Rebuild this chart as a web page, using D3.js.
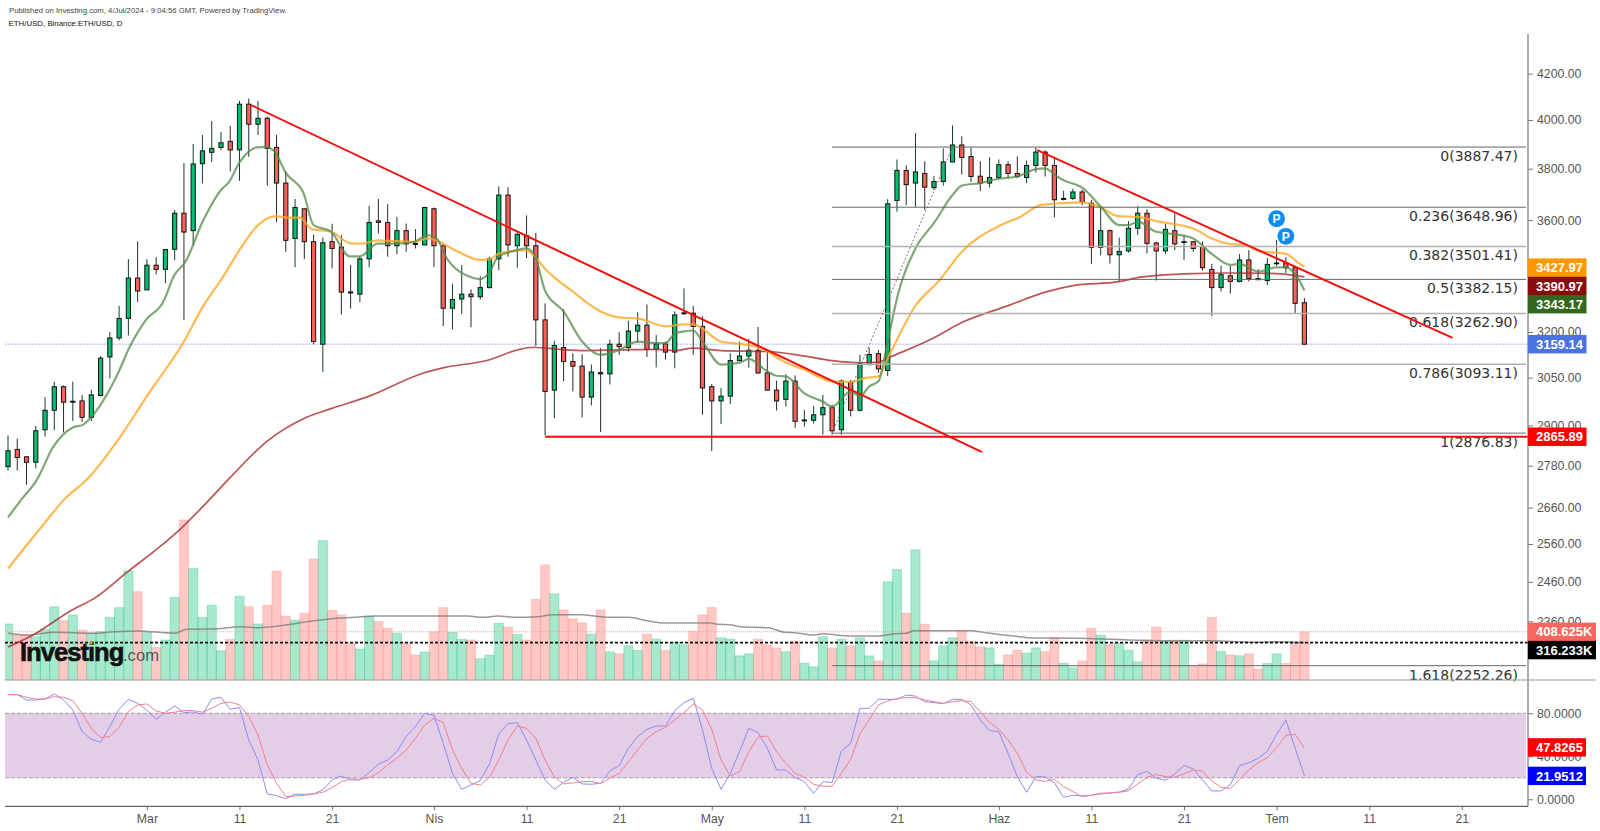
<!DOCTYPE html>
<html>
<head>
<meta charset="utf-8">
<style>
  html, body { margin: 0; padding: 0; background: #fff; }
  svg { display: block; }
  text { font-family: "Liberation Sans", Arial, sans-serif; }
  .axis text { font-size: 12.3px; fill: #555; }
  .axis line { stroke: #777; }
  .axis path { display: none; }
</style>
</head>
<body>
<div id="box"></div>
<script src="https://d3js.org/d3.v7.min.js"></script>
<script>
// daily candles, 15 Feb 2024 (day 0) to 4 Jul 2024 (day 140)
var opens = [2777,2828,2806,2790,2887,2947,3021,2972,2976,2925,2993,3117,3180,3246,3387,3345,3433,3418,3491,3626,3560,3820,3866,3886,3911,3876,4067,3982,4007,3886,3743,3531,3643,3519,3159,3519,3499,3338,3330,3456,3597,3591,3504,3560,3513,3507,3643,3504,3281,3313,3330,3321,3353,3456,3696,3504,3541,3504,3241,3010,3148,3102,3087,2988,3066,3062,3159,3148,3203,3223,3142,3160,3133,3262,3264,3219,3021,2976,2991,3105,3120,3139,3065,3010,2981,3039,2914,2916,2933,2955,2887,3036,2947,3092,3128,3073,3675,3793,3743,3781,3725,3749,3827,3896,3849,3770,3743,3765,3816,3781,3765,3813,3867,3813,3679,3683,3708,3664,3498,3560,3471,3485,3569,3626,3514,3485,3560,3516,3519,3501,3418,3353,3395,3375,3452,3385,3378,3438,3442,3424,3300];
var highs = [2870,2860,2808,2899,2988,3037,3025,3037,2995,3011,3120,3200,3289,3455,3520,3455,3462,3493,3638,3822,3900,3937,3995,3950,3976,4081,4091,4081,4014,3937,3790,3681,3643,3546,3534,3586,3543,3434,3465,3654,3681,3661,3612,3587,3566,3651,3648,3509,3367,3433,3347,3393,3464,3730,3727,3560,3618,3552,3298,3171,3278,3129,3126,3092,3146,3174,3199,3238,3267,3294,3190,3168,3270,3350,3289,3253,3030,3017,3129,3168,3177,3217,3135,3040,3061,3057,2948,2960,2995,2964,3044,3043,3124,3148,3140,3680,3837,3813,3945,3830,3770,3882,3977,3931,3886,3830,3846,3837,3830,3849,3833,3886,3875,3842,3713,3721,3717,3677,3651,3565,3534,3596,3653,3641,3520,3587,3625,3543,3522,3520,3438,3431,3431,3474,3488,3419,3459,3525,3463,3431,3317];
var lows = [2766,2766,2725,2772,2866,2886,2879,2914,2911,2914,2990,3047,3172,3188,3302,3345,3400,3369,3452,3241,3506,3742,3827,3875,3790,3752,3848,3937,3733,3592,3482,3426,3455,3159,3068,3421,3259,3280,3302,3426,3550,3464,3473,3482,3494,3507,3426,3220,3209,3261,3216,3311,3350,3415,3464,3424,3458,3154,2870,2922,3038,3006,2925,2962,2880,3028,3124,3135,3163,3117,3083,3108,3080,3258,3124,2933,2823,2905,2966,3102,3082,3063,3010,2946,2958,2893,2897,2906,2872,2872,2872,2928,2943,3089,3065,3055,3632,3657,3651,3638,3716,3733,3827,3777,3747,3712,3726,3758,3762,3762,3743,3785,3769,3610,3675,3677,3657,3438,3469,3439,3375,3478,3544,3476,3378,3474,3488,3452,3482,3414,3254,3339,3332,3371,3375,3381,3362,3431,3405,3262,3159.14];
var closes = [2824,2804,2790,2884,2947,3021,2972,2975,2925,2995,3113,3180,3246,3387,3341,3433,3418,3490,3626,3555,3819,3872,3882,3905,3876,4067,3982,4007,3882,3743,3524,3648,3519,3168,3515,3494,3337,3334,3456,3591,3591,3504,3560,3511,3509,3648,3504,3281,3311,3330,3321,3353,3456,3696,3507,3546,3504,3241,3006,3155,3102,3087,2988,3068,3062,3159,3151,3203,3223,3142,3160,3133,3258,3265,3219,3017,2976,2991,3105,3120,3139,3065,3010,2976,3039,2913,2917,2933,2955,2884,3039,2947,3096,3125,3078,3662,3793,3737,3787,3727,3749,3827,3896,3845,3769,3743,3765,3816,3781,3769,3813,3867,3813,3678,3683,3708,3670,3498,3560,3471,3483,3569,3626,3513,3485,3565,3511,3519,3494,3424,3353,3399,3375,3452,3385,3381,3436,3441,3424,3298,3159.14];

// volume in thousands
var volumes = [476,381,381,367,430,624,504,553,424,396,410,533,616,930,753,404,276,339,704,1367,953,533,636,247,344,713,624,476,636,930,544,507,567,1033,1190,593,553,310,261,544,496,439,396,310,210,236,410,616,404,344,339,179,210,481,450,387,339,687,983,734,597,520,486,389,597,237,220,289,249,389,346,251,320,297,414,554,617,357,346,203,220,346,297,271,237,329,140,109,366,271,346,289,357,203,160,837,943,569,1111,474,160,289,357,414,329,280,271,131,211,251,226,271,240,357,140,100,160,440,380,300,311,251,151,340,449,331,337,337,117,134,534,240,211,203,220,91,137,220,137,311,408.625];

// stochastic %K and %D
var stochK = [97.4,97.4,92.4,92.4,93.3,98,92.4,83,63,55.8,53,67.6,83.7,93,89.3,83,74.4,81,86.8,80.6,81.2,79,93.3,94.9,83.7,85.3,55.2,36.6,5,3.4,0.6,4.7,4.7,5,8.7,18,21.7,18,18,24.8,32.6,36.6,44.3,58.3,67.6,80,78.1,52,24.2,9.3,13.3,17.4,32.9,60.8,70.4,71.3,55.2,36.6,18,9.3,15.8,20.5,14.3,14,14.9,26.4,31.3,47.5,58.3,65.1,68.2,68.2,82.5,89.9,94,64.5,28.8,9.3,24.2,44.3,66,62,47.5,27.3,27.3,20.2,16.4,5.6,16.4,15.8,45,52,84.6,84.6,93,93,93,97,96,90.8,89.9,89,93,93,87.8,73.8,63.9,63,42.8,21,6.5,21,21,15.5,1.9,3.7,3.1,3.7,5.6,5.9,6.8,9.6,23,26,19.6,17.7,23.6,31.6,28.2,18,7.8,7.8,13.4,31.6,33.8,38.2,44.7,60.5,73.8,47.5,21.9512];
var stochD = [97.4,97.4,94.9,93.3,93.3,95.5,94.9,91.8,80,66,57.4,58.3,67,81.5,87.8,88.7,82.2,80,81,82.5,82.5,81,84.6,89.3,90.5,87.8,76.9,59.8,32,14.9,2.5,3.1,3.7,5,6.5,10.9,16.4,18.9,18.6,19.9,24.8,32,38.2,45.9,56.7,69.2,75.3,71.6,45.9,28.8,14.9,13.3,20.5,36.6,55.2,68.2,66,56.7,36.6,21,14.3,15.2,16.4,16.7,14.6,19.6,24.2,35,45.9,56.7,63,67,73.8,80.6,88.7,83,65.1,36.6,21.7,25.8,44.3,57.7,58.9,44.3,33.5,24.2,20.5,14,12.1,12.1,24.2,37.2,60.8,73.8,87.8,91.5,93.6,94.6,94.6,92.4,90.8,89.3,90.8,91.8,90.8,81.5,71.6,65.1,55.2,42.8,25.1,18,16.7,18.6,11.8,7.2,2.5,3.7,5,5.9,6.5,7.8,14.3,20.5,23,21.1,20.5,23.6,27.3,26,17.1,11.2,10,18.6,27.3,34.1,38.8,48,59.5,60.5,47.8265];

// moving averages read at these days
var fastDays = [0,1.4,3.1,4.9,7,8.1,9,11.8,13.1,14.9,16.7,18,19.1,21.1,23,23.9,25,26.9,27.8,28.8,30,31.9,33,34.9,36.9,38,39.9,41.8,43.8,45.3,46.1,47.5,50.1,51,52,52.9,55,55.9,56.8,58,60,62,64,66,68,70,71,72,73,74,75,77,79,80,82,83,84,86,88,89,91,92,93,94,95,96,98,100,102,103,105,107,109,111,112,113.3,114,116,118,120,121,122,124,126,128,130,132,133,135,137,138,139.5,140];
var fastValues = [2633,2681,2738,2836,2894,2902,2926,3059,3147,3241,3299,3399,3442,3600,3716,3749,3825,3886,3888,3868,3783,3705,3581,3556,3465,3465,3512,3512,3518,3543,3537,3452,3389,3383,3408,3463,3488,3494,3475,3342,3270,3168,3124,3140,3168,3163,3163,3194,3202,3205,3168,3092,3098,3111,3070,3056,3054,3000,2974,2958,3006,2990,3022,3038,3168,3315,3494,3589,3696,3733,3743,3760,3769,3798,3801,3769,3754,3725,3652,3581,3581,3594,3556,3547,3531,3474,3434,3438,3410,3425,3425,3375,3343.17];

var midDays = [0,4.2,6,8.7,11.8,15.2,18.9,21.1,23,25.2,27,28,28.9,30.2,31.5,32.8,34.9,36.9,38.2,39.9,43.8,45.3,46.2,48.6,51,52,53,55.9,57.2,58,61,64,66.2,68,71,73,74,77,79,81.3,83.8,86,89,91,92.6,94,95,96,97.8,100.7,103,106.8,109.3,111.5,114,116,117.8,119.9,122,124,128,130,132,133.7,135,138,139.5,140];
var midValues = [2495,2625,2681,2745,2853,3000,3163,3289,3380,3499,3581,3606,3615,3609,3609,3566,3556,3514,3512,3524,3518,3531,3524,3482,3452,3454,3475,3488,3452,3420,3339,3270,3249,3246,3219,3226,3226,3168,3160,3146,3102,3075,3038,3036,3049,3054,3113,3174,3280,3383,3482,3574,3612,3657,3665,3668,3652,3615,3612,3596,3568,3531,3510,3506,3485,3474,3438,3427.97];

var slowDays = [0,2.7,6.6,9.6,12.9,15.9,18.5,21.7,23.9,28,31.9,34.9,39,44.8,47.1,52,55,56.8,58,62,66,70,72,74,77,82,86,89,92,94,95.3,100,103,108,112,115,120,122.3,128,131.3,137,140];
var slowValues = [2297,2326,2384,2422,2486,2543,2598,2681,2743,2853,2921,2952,2991,3064,3082,3108,3140,3149,3146,3138,3140,3142,3138,3146,3138,3135,3120,3105,3098,3100,3117,3181,3232,3290,3337,3360,3374,3390,3403,3405,3403,3390.97];

var volMaDays = [0,2,5,9,11.5,14,18,19.3,22.6,25.2,26.9,30.8,33,34.9,37.5,39.7,49.7,51.2,52.9,55,57.2,58.8,62,63.3,65,67,69,71,75.8,76.7,78,79.1,82.1,83.9,85,86.9,88,90.6,94,95.8,97,97.9,104,105.6,108.6,110.7,113.3,121.1,124.8,130,134.5,137,140];
var volMaValues = [396,381,404,396,410,416,396,430,435,452,444,476,504,521,533,544,544,533,544,533,538,555,555,544,533,533,504,484,484,473,470,452,444,404,401,381,392,373,373,392,396,418,418,401,373,356,356,339,333,333,319,324,316.233];

// fibonacci levels
var fibRatios = ["0","0.236","0.382","0.5","0.618","0.786","1","1.618"];
var fibPrices = [3887.47,3648.96,3501.41,3382.15,3262.90,3093.11,2876.83,2252.26];

// axis ticks
var priceTicks = [4200,4000,3800,3600,3200,3050,2900,2780,2660,2560,2460,2360];
var stochTicks = [80,40,0];
var dayTicks = [15,25,35,46,56,66,76,86,96,107,117,127,137,147,157];
var dayLabels = ["Mar","11","21","Nis","11","21","May","11","21","Haz","11","21","Tem","11","21"];

var lastPrice = 3159.14;
var supportPrice = 2865.89;
var lastVolume = 408.625;
var volumeMark = 316.233;

var width = 1600, height = 831;
var left = 5, axisX = 1528;
var paneBottom = 679.5, chartBottom = 806.3;

var svg = d3.select("#box").append("svg").attr("width", width).attr("height", height);

svg.append("defs").append("clipPath").attr("id", "plot")
  .append("rect").attr("x", left).attr("y", 0).attr("width", axisX - left).attr("height", chartBottom);

var xScale = d3.scaleLinear().domain([0, 140]).range([8, 1304.4]);
var yPrice = d3.scaleLog().domain([4200, 2360]).range([73.6, 621.3]);
var yVol = d3.scaleLinear().domain([0, 1400]).range([paneBottom, 516.1]);
var yStoch = d3.scaleLinear().domain([0, 80]).range([799.3, 713.3]);

var step = xScale(1) - xScale(0);
var greenFill = "#00c070", redFill = "#ff6058";

var plot = svg.append("g").attr("clip-path", "url(#plot)");

// ---- stochastic pane
plot.append("rect")
  .attr("x", left).attr("y", yStoch(80))
  .attr("width", axisX - left - 2).attr("height", yStoch(20) - yStoch(80))
  .attr("fill", "#e4cde7");
[80, 20].forEach(function(v) {
  plot.append("line")
    .attr("x1", left).attr("x2", axisX - 2)
    .attr("y1", yStoch(v)).attr("y2", yStoch(v))
    .attr("stroke", "#a99aa9").attr("stroke-dasharray", "4,2");
});

function stochLine(values, color) {
  plot.append("path")
    .attr("d", d3.line()
      .x(function(d, i) { return xScale(i); })
      .y(function(d) { return yStoch(d); })(values))
    .attr("fill", "none")
    .attr("stroke", color)
    .attr("stroke-width", 1);
}
stochLine(stochK, "#8c8cf5");
stochLine(stochD, "#f0808e");

// ---- volume
plot.selectAll(".vol")
  .data(volumes)
  .enter().append("rect")
  .attr("class", "vol")
  .attr("x", function(d, i) { return xScale(i) - step / 2; })
  .attr("y", function(d) { return yVol(d); })
  .attr("width", step)
  .attr("height", function(d) { return paneBottom - yVol(d); })
  .attr("fill", function(d, i) { return closes[i] >= opens[i] ? "rgba(0,192,112,0.35)" : "rgba(255,96,88,0.35)"; })
  .attr("stroke", function(d, i) { return closes[i] >= opens[i] ? "rgba(0,192,112,0.25)" : "rgba(255,96,88,0.2)"; });

plot.append("line")
  .attr("x1", left).attr("x2", axisX)
  .attr("y1", yVol(lastVolume)).attr("y2", yVol(lastVolume))
  .attr("stroke", "#f9a09a").attr("stroke-dasharray", "1,1");

plot.append("path")
  .attr("d", d3.line()
    .x(function(d) { return xScale(d[0]); })
    .y(function(d) { return yVol(d[1]); })
    .curve(d3.curveMonotoneX)(d3.zip(volMaDays, volMaValues)))
  .attr("fill", "none")
  .attr("stroke", "#777")
  .attr("stroke-opacity", 0.75)
  .attr("stroke-width", 1.5);

plot.append("line")
  .attr("x1", left).attr("x2", axisX)
  .attr("y1", yVol(volumeMark)).attr("y2", yVol(volumeMark))
  .attr("stroke", "#111").attr("stroke-width", 1.6).attr("stroke-dasharray", "3,2");

// ---- logo
var logo = svg.append("g");
logo.append("text")
  .attr("x", 20).attr("y", 660.5)
  .attr("font-size", 25.6).attr("font-weight", "bold").attr("fill", "#111")
  .attr("letter-spacing", "-1px")
  .attr("stroke", "#111").attr("stroke-width", 0.6)
  .text("Investing");
logo.append("text")
  .attr("x", 123).attr("y", 660.5)
  .attr("font-size", 16.6).attr("fill", "#555")
  .text(".com");
logo.append("rect")
  .attr("x", 89).attr("y", 641.5).attr("width", 3.4).attr("height", 3)
  .attr("fill", "#f5a21b");

// ---- price line and fibonacci levels
plot.append("line")
  .attr("x1", left).attr("x2", axisX)
  .attr("y1", yPrice(lastPrice)).attr("y2", yPrice(lastPrice))
  .attr("stroke", "#c4d0f4").attr("stroke-width", 1.5).attr("stroke-dasharray", "2,1");

var fibStart = 89;
var fibThick = {"0.382": 1, "0.618": 1, "0.786": 1};
fibPrices.forEach(function(p, i) {
  var thick = fibThick[fibRatios[i]];
  svg.append("line")
    .attr("x1", xScale(fibStart)).attr("x2", axisX - 2)
    .attr("y1", yPrice(p)).attr("y2", yPrice(p))
    .attr("stroke", thick ? "#b0b0b0" : "#666")
    .attr("stroke-width", thick ? 1.6 : 1);
  svg.append("text")
    .attr("x", 1518).attr("y", yPrice(p) + 14)
    .attr("text-anchor", "end")
    .style("font-family", "'DejaVu Sans'")
    .style("font-size", "14px")
    .attr("fill", "#333")
    .text(fibRatios[i] + "(" + d3.format(".2f")(p) + ")");
});

// dashed fib trend
svg.append("line")
  .attr("x1", xScale(fibStart)).attr("y1", yPrice(fibPrices[6]))
  .attr("x2", xScale(102)).attr("y2", yPrice(fibPrices[0]))
  .attr("stroke", "#777").attr("stroke-width", 1).attr("stroke-dasharray", "2,2");

// ---- candles
var candles = plot.selectAll(".candle")
  .data(d3.range(opens.length))
  .enter().append("g").attr("class", "candle");

candles.append("line")
  .attr("x1", function(i) { return xScale(i); })
  .attr("x2", function(i) { return xScale(i); })
  .attr("y1", function(i) { return yPrice(highs[i]); })
  .attr("y2", function(i) { return yPrice(lows[i]); })
  .attr("stroke", function(i) { return closes[i] >= opens[i] ? "#12402c" : "#2a2a2a"; });

candles.append("rect")
  .attr("x", function(i) { return xScale(i) - 2.1; })
  .attr("width", 4.2)
  .attr("y", function(i) { return yPrice(Math.max(opens[i], closes[i])); })
  .attr("height", function(i) { return Math.abs(yPrice(opens[i]) - yPrice(closes[i])); })
  .attr("fill", function(i) { return closes[i] >= opens[i] ? greenFill : redFill; })
  .attr("stroke", "#111");

// ---- moving averages
function maLine(days, values, color, w, opacity) {
  plot.append("path")
    .attr("d", d3.line()
      .x(function(d) { return xScale(d[0]); })
      .y(function(d) { return yPrice(d[1]); })
      .curve(d3.curveMonotoneX)(d3.zip(days, values)))
    .attr("fill", "none")
    .attr("stroke", color)
    .attr("stroke-width", w)
    .attr("stroke-opacity", opacity);
}
maLine(slowDays, slowValues, "#a92a2e", 1.7, 0.8);
maLine(midDays, midValues, "#ffa726", 2.2, 0.8);
maLine(fastDays, fastValues, "#558b4a", 2.2, 0.75);

// ---- drawn trend lines
var trendLines = [
  [26.25, 4063, 105.2, 2820],
  [111.15, 3875, 156, 3180]
];
trendLines.forEach(function(t) {
  svg.append("line")
    .attr("x1", xScale(t[0])).attr("y1", yPrice(t[1]))
    .attr("x2", xScale(t[2])).attr("y2", yPrice(t[3]))
    .attr("stroke", "#f50d0d").attr("stroke-width", 2);
});
svg.append("line")
  .attr("x1", xScale(58)).attr("x2", axisX)
  .attr("y1", yPrice(supportPrice)).attr("y2", yPrice(supportPrice))
  .attr("stroke", "#f50d0d").attr("stroke-width", 2);

// ---- pivot markers
var pivotDays = [137, 138];
var pivotPrices = [3605, 3539];
pivotDays.forEach(function(d, i) {
  svg.append("circle")
    .attr("cx", xScale(d)).attr("cy", yPrice(pivotPrices[i])).attr("r", 8.4)
    .attr("fill", "#0c8cf2");
  svg.append("text")
    .attr("x", xScale(d)).attr("y", yPrice(pivotPrices[i]) + 4.4)
    .attr("text-anchor", "middle")
    .attr("font-size", 12).attr("font-weight", "bold").attr("fill", "#fff")
    .text("P");
});

// ---- axes
svg.append("g")
  .attr("class", "axis")
  .attr("transform", "translate(" + axisX + ",0)")
  .call(d3.axisRight(yPrice)
    .tickValues(priceTicks)
    .tickFormat(d3.format(".2f"))
    .tickSize(5).tickPadding(4));

svg.append("g")
  .attr("class", "axis")
  .attr("transform", "translate(" + axisX + ",0)")
  .call(d3.axisRight(yStoch)
    .tickValues(stochTicks)
    .tickFormat(d3.format(".4f"))
    .tickSize(5).tickPadding(4));

svg.append("g")
  .attr("class", "axis")
  .attr("transform", "translate(0," + chartBottom + ")")
  .call(d3.axisBottom(xScale)
    .tickValues(dayTicks)
    .tickFormat(function(d, i) { return dayLabels[i]; })
    .tickSize(4).tickPadding(4));

// frame lines
svg.append("line").attr("x1", axisX).attr("x2", axisX).attr("y1", 34).attr("y2", chartBottom).attr("stroke", "#777").attr("stroke-width", 1.2);
svg.append("line").attr("x1", left).attr("x2", axisX).attr("y1", chartBottom).attr("y2", chartBottom).attr("stroke", "#666").attr("stroke-width", 1.2);
svg.append("line").attr("x1", left).attr("x2", 1596).attr("y1", paneBottom + 0.5).attr("y2", paneBottom + 0.5).attr("stroke", "#999").attr("stroke-width", 1.2);

// ---- value tags
function tag(y, w, label, color) {
  svg.append("rect")
    .attr("x", axisX).attr("y", y - 9.2)
    .attr("width", w).attr("height", 18.4)
    .attr("fill", color);
  svg.append("text")
    .attr("x", axisX + 8).attr("y", y + 4.6)
    .attr("font-size", 13).attr("font-weight", "bold").attr("fill", "#fff")
    .text(label);
}
var tagFmt = d3.format(".2f");
tag(yPrice(3427.97) + 1, 58.5, tagFmt(3427.97), "#ff9800");
tag(yPrice(3390.97) + 9, 58.5, tagFmt(3390.97), "#880e0e");
tag(yPrice(3343.17) + 13.8, 58.5, tagFmt(3343.17), "#33691e");
tag(yPrice(lastPrice), 58.5, tagFmt(lastPrice), "#4a72e0");
tag(yPrice(supportPrice), 58.5, tagFmt(supportPrice), "#ff0000");
tag(yVol(lastVolume), 68, lastVolume + "K", "#f9665e");
tag(yVol(volumeMark) + 7.5, 68, volumeMark + "K", "#000");
tag(yStoch(47.8265) - 0.5, 58, "47.8265", "#ff0000");
tag(yStoch(21.9512) + 0.2, 58, "21.9512", "#0000ff");

// ---- header
svg.append("text")
  .attr("x", 9).attr("y", 12.5)
  .attr("font-size", 7.75).attr("fill", "#444")
  .text("Published on Investing.com, 4/Jul/2024 - 9:04:56 GMT, Powered by TradingView.");
svg.append("text")
  .attr("x", 8.6).attr("y", 26)
  .attr("font-size", 7.85).attr("fill", "#111")
  .text("ETH/USD, Binance:ETH/USD, D");
</script>
</body>
</html>
